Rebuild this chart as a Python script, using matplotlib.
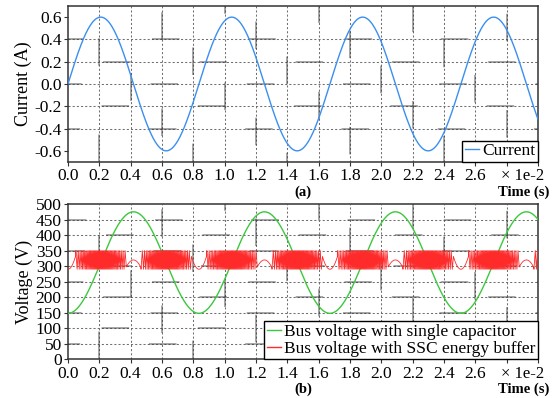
import numpy as np
import matplotlib.pyplot as plt

plt.rcParams["font.family"] = ["Liberation Serif", "DejaVu Serif"]

# waveform readings (time in seconds)
T_END = 0.03
LINE_PERIOD = 0.836e-2          # 2x line frequency ripple period
CURRENT_PEAK = 0.6              # A
CAP_MIN, CAP_MAX = 148.0, 475.0  # V, single capacitor bus voltage
SSC_LOW, SSC_HIGH = 290.0, 350.0  # V, SSC hysteresis band
HUMP_TOP, HUMP_EDGE, HUMP_HALF = 320.0, 295.0, 4.8e-4
DIP_EDGE, DIP_HALF = 335.0, 5.0e-4
TOOTH_PERIOD = 0.6e-4

x_ticks = np.arange(0, 0.0301, 0.002)
x_labels = ["%.1f" % (v * 100) for v in x_ticks[:14]] + ["", ""]
i_ticks = [-0.6, -0.4, -0.2, 0.0, 0.2, 0.4, 0.6]
v_ticks = list(range(0, 501, 50))

t = np.linspace(0, T_END, 3000)
current = CURRENT_PEAK * np.sin(2 * np.pi * t / LINE_PERIOD)
v_mid = (CAP_MAX + CAP_MIN) / 2
v_amp = (CAP_MAX - CAP_MIN) / 2
v_cap = v_mid - v_amp * np.cos(2 * np.pi * t / LINE_PERIOD)


def ssc_voltage():
    """Switching bus voltage of the SSC buffer: hysteresis teeth with
    quiet stretches around the capacitor voltage extremes."""
    ts, vs = [], []
    tk, high = 0.0, True
    while tk <= T_END:
        ph = (tk % LINE_PERIOD) / LINE_PERIOD
        d_trough = min(ph, 1 - ph) * LINE_PERIOD
        d_peak = abs(ph - 0.5) * LINE_PERIOD
        if d_trough < DIP_HALF:
            v = SSC_LOW + (DIP_EDGE - SSC_LOW) * (d_trough / DIP_HALF) ** 2
            step = 2e-6
        elif d_peak < HUMP_HALF:
            v = HUMP_TOP - (HUMP_TOP - HUMP_EDGE) * (d_peak / HUMP_HALF) ** 2
            step = 2e-6
        else:
            v = SSC_HIGH if high else SSC_LOW
            high = not high
            w = abs(np.sin(2 * np.pi * tk / LINE_PERIOD))
            step = TOOTH_PERIOD / max(w, 0.35) / 2
        ts.append(tk)
        vs.append(v)
        tk += step
    return np.array(ts), np.array(vs)


t_ssc, v_ssc = ssc_voltage()


def style_axes(ax, yticks, ylim):
    ax.set_xlim(0, T_END)
    ax.set_ylim(*ylim)
    ax.set_xticks(x_ticks)
    ax.set_xticklabels(x_labels)
    ax.set_yticks(yticks)
    ax.tick_params(labelsize=12.5, direction="out", length=3, width=0.8,
                   color="#333333", pad=1.5)
    # dotted grid
    for xv in x_ticks[1:-1]:
        ax.axvline(xv, color="#707070", lw=0.75, linestyle=(0, (2, 2)),
                   zorder=1)
    for yv in yticks[1:-1]:
        ax.axhline(yv, color="#707070", lw=0.75, linestyle=(0, (2, 2)),
                   zorder=1)
    # darker long dashes laid over the dotted grid
    for i, xv in enumerate(x_ticks[1:-1]):
        ax.axvline(xv, color="#333333", lw=1.1, alpha=0.55,
                   linestyle=((i * 23) % 63, (18, 45)), zorder=1)
    for i, yv in enumerate(yticks[1:-1]):
        ax.axhline(yv, color="#333333", lw=1.1, alpha=0.55,
                   linestyle=((i * 31 + 10) % 63, (18, 45)), zorder=1)
    for s in ax.spines.values():
        s.set_color("#333333")
        s.set_linewidth(1.1)
    ax.annotate("× 1e-2", xy=(0.029, 0), xycoords=("data", "axes fraction"),
                xytext=(0, -4.5), textcoords="offset points", ha="center",
                va="top", fontsize=12)


fig = plt.figure(figsize=(5.54, 3.98), dpi=100)
ax1 = fig.add_axes([0.1227, 0.593, 0.8484, 0.392])
ax2 = fig.add_axes([0.1227, 0.0973, 0.8484, 0.390])

ax1.plot(t, current, color="#3a8ff0", lw=1.0, label="Current", zorder=3)
style_axes(ax1, i_ticks, (-0.7, 0.7))
ax1.set_yticklabels(["%.1f" % v for v in i_ticks])
ax1.set_ylabel("Current (A)", fontsize=13, labelpad=2)
ax1.legend(loc="lower right", fontsize=12.5, borderaxespad=0, fancybox=False,
           framealpha=1, edgecolor="black", handlelength=0.8,
           handletextpad=0.2, borderpad=0.15)

ax2.plot(t, v_cap, color="#3cc83c", lw=1.0,
         label="Bus voltage with single capacitor", zorder=3)
ax2.plot(t_ssc, v_ssc, color="#ff2a2a", lw=0.6,
         label="Bus voltage with SSC energy buffer", zorder=3)
style_axes(ax2, v_ticks, (0, 500))
ax2.set_ylabel("Voltage (V)", fontsize=13, labelpad=2)
leg = ax2.legend(loc="lower right", fontsize=12.5, borderaxespad=0,
                 fancybox=False, framealpha=1, edgecolor="black",
                 handlelength=0.8, handletextpad=0.2, borderpad=0.15,
                 labelspacing=0.05)
for line in leg.get_lines():
    line.set_linewidth(1.0)

for tag, ypx in [("(a)", 192), ("(b)", 389)]:
    fig.text(0.547, 1 - ypx / 398, tag, fontsize=10.5, fontweight="bold",
             ha="center", va="center")
    fig.text(0.991, 1 - ypx / 398, "Time (s)", fontsize=10.5,
             fontweight="bold", ha="right", va="center")

fig.savefig("out.png", dpi=100)
